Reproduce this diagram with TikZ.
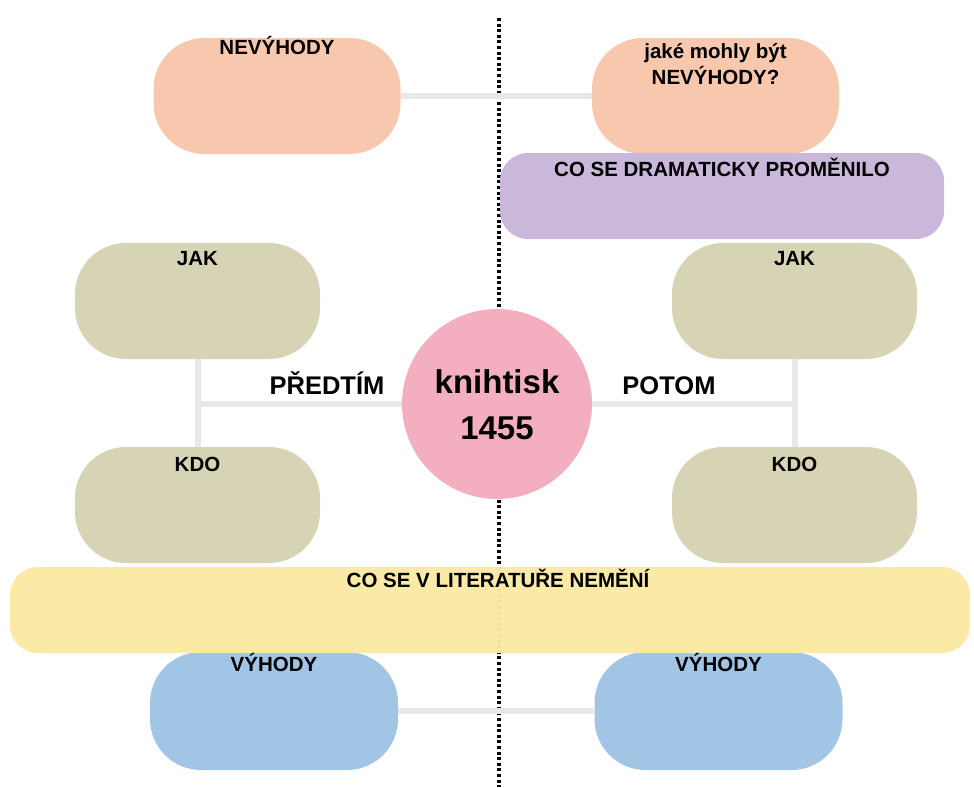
\documentclass[tikz,border=0pt]{standalone}
\usepackage{fontspec}
\setmainfont{Liberation Sans}
\definecolor{peach}{HTML}{F7C7AE}
\definecolor{lilac}{HTML}{CAB8DB}
\definecolor{olive}{HTML}{D7D4B6}
\definecolor{rosy}{HTML}{F3AFC0}
\definecolor{sand}{HTML}{FBE8A3}
\definecolor{sky}{HTML}{A2C5E6}
\definecolor{conn}{HTML}{E6E8EA}
\tikzset{
  pill/.style={draw=none, rectangle, rounded corners=51pt, minimum width=247pt, minimum height=116pt, inner sep=0pt},
  band/.style={draw=none, rectangle, rounded corners=28pt, minimum height=86pt, inner sep=0pt},
  lab/.style={anchor=base, inner sep=0pt, font=\fontsize{20.5}{24}\selectfont\bfseries, text=black},
  biglab/.style={anchor=base, inner sep=0pt, font=\fontsize{25.5}{30}\selectfont\bfseries, text=black},
  huge/.style={anchor=base, inner sep=0pt, font=\fontsize{33}{38}\selectfont\bfseries, text=black},
  link/.style={draw=conn, line width=6pt},
  divider/.style={draw=black, line width=3.5pt, dash pattern=on 3pt off 2.6pt}
}
\begin{document}
\begin{tikzpicture}[x=1pt, y=-1pt]
\useasboundingbox (0,0) rectangle (974,787);
% divider
\coordinate (dtop) at (499,18);
\coordinate (dbot) at (499,787);
\draw[divider] (dtop) -- (dbot);
% shapes
\node[pill, fill=peach] (nevL) at (277,96) {};
\node[pill, fill=peach] (nevR) at (715.5,96) {};
\node[pill, fill=olive, minimum width=245pt] (jakL) at (197.5,301) {};
\node[pill, fill=olive, minimum width=245pt] (jakR) at (794.5,301) {};
\node[pill, fill=olive, minimum width=245pt] (kdoL) at (197.5,505) {};
\node[pill, fill=olive, minimum width=245pt] (kdoR) at (794.5,505) {};
\node[pill, fill=sky, minimum width=248pt, minimum height=118pt] (vyhL) at (274,711) {};
\node[pill, fill=sky, minimum width=248pt, minimum height=118pt] (vyhR) at (718.5,711) {};
\node[circle, fill=rosy, minimum size=190pt, inner sep=0pt] (circ) at (497,404) {};
% connectors
\coordinate (lj) at (jakL.south |- circ.west);
\coordinate (rj) at (jakR.south |- circ.east);
\draw[link] (nevL.east) -- (nevR.west);
\draw[link] (vyhL.east) -- (vyhR.west);
\draw[link] (jakL.south) -- (kdoL.north);
\draw[link] (lj) -- (circ.west);
\draw[link] (jakR.south) -- (kdoR.north);
\draw[link] (rj) -- (circ.east);
% bands
\node[band, fill=lilac, minimum width=444pt] (drama) at (722,196) {};
\node[band, fill=sand, fill opacity=0.97, minimum width=960pt] (lit) at (490,610) {};
% texts
\node[lab] (tnevL) at ([yshift=-17pt]nevL.north) {NEVÝHODY};
\node[lab] (tnevR1) at ([yshift=-21pt]nevR.north) {jaké mohly být};
\node[lab] (tnevR2) at ([yshift=-47pt]nevR.north) {NEVÝHODY?};
\node[lab] (tdrama) at ([yshift=-24pt]drama.north) {CO SE DRAMATICKY PROMĚNILO};
\node[lab] (tjakL) at ([yshift=-23pt]jakL.north) {JAK};
\node[lab] (tjakR) at ([yshift=-23pt]jakR.north) {JAK};
\node[lab] (tkdoL) at ([yshift=-25pt]kdoL.north) {KDO};
\node[lab] (tkdoR) at ([yshift=-25pt]kdoR.north) {KDO};
\node[lab] (tlit) at ([xshift=8pt, yshift=-21pt]lit.north) {CO SE V LITERATUŘE NEMĚNÍ};
\node[lab] (tvyhL) at ([yshift=-20pt]vyhL.north) {VÝHODY};
\node[lab] (tvyhR) at ([yshift=-20pt]vyhR.north) {VÝHODY};
\node[biglab] (tpred) at (327,394) {PŘEDTÍM};
\node[biglab] (tpot) at (669,394) {POTOM};
\node[huge] (tkn) at (497,393) {knihtisk};
\node[huge] (tyr) at (497,439) {1455};
\end{tikzpicture}
\end{document}
